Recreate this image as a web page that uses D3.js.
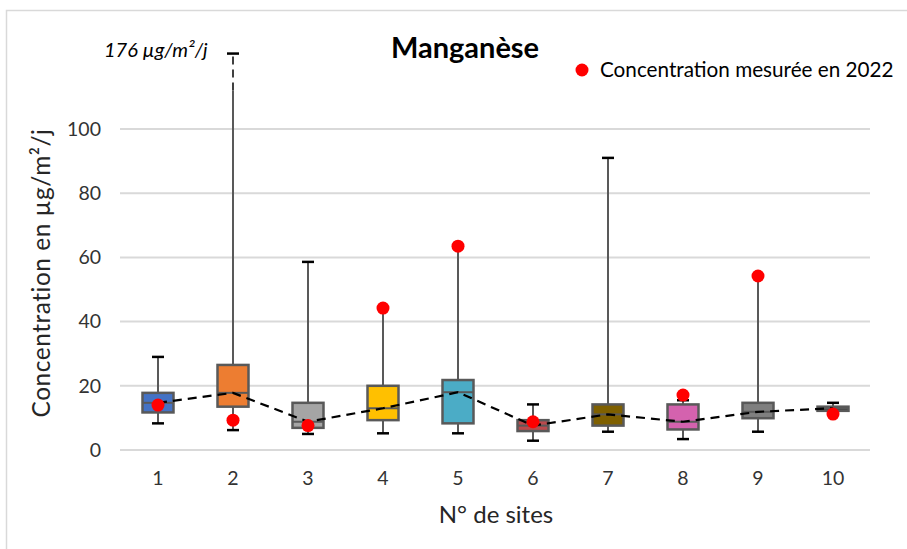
<!DOCTYPE html>
<html>
<head>
<meta charset="utf-8">
<script src="https://cdn.jsdelivr.net/npm/d3@7/dist/d3.min.js"></script>
<style>
  html, body { margin: 0; padding: 0; background: #fff; }
  svg { display: block; font-family: Lato, "Noto Sans", sans-serif; }
</style>
</head>
<body>
<svg id="chart" width="907" height="549"></svg>
<script>
// Manganese deposition per site: box statistics (µg/m²/j)
const sites    = ["1", "2", "3", "4", "5", "6", "7", "8", "9", "10"];
const minVals  = [8.3, 6.2, 5.0, 5.2, 5.2, 2.9, 5.7, 3.4, 5.7, 12.2];
const q1Vals   = [11.7, 13.5, 6.9, 9.3, 8.3, 5.9, 7.6, 6.4, 9.9, 12.2];
const medVals  = [14.7, 17.8, 8.8, 13.0, 18.0, 7.6, 11.1, 8.8, 11.9, 13.0];
const q3Vals   = [17.8, 26.5, 14.7, 20.0, 21.8, 9.3, 14.2, 14.2, 14.7, 13.5];
const maxVals  = [29.0, 176, 58.6, 44.0, 63.5, 14.2, 91.0, 15.5, 54.0, 14.7];
const measured2022 = [14.0, 9.3, 7.6, 44.2, 63.5, 8.8, null, 17.1, 54.2, 11.2];
const boxColors = ["#4472C4", "#ED7D31", "#A5A5A5", "#FFC000", "#4BACC6",
                   "#B94A4D", "#7F6000", "#D462AE", "#7F7F7F", "#404040"];
const yTicks = [0, 20, 40, 60, 80, 100];

// Axis stops short of the largest maximum; values above are shown truncated
const axisMax = 124;
const clipAt = 123.5;
const dashFrom = 112;

const svg = d3.select("#chart");

// chart frame
svg.append("rect")
  .attr("x", 6.5).attr("y", 10.5)
  .attr("width", 910).attr("height", 545)
  .attr("fill", "none").attr("stroke", "#d9d9d9").attr("stroke-width", 1.5);

const x = d3.scaleBand().domain(sites).range([120.5, 870.5]);
const y = d3.scaleLinear().domain([0, axisMax]).range([450, 450 - 3.21 * axisMax]);
const cx = s => x(s) + x.bandwidth() / 2;
const boxW = 31;

// gridlines
svg.append("g").selectAll("line").data(yTicks).join("line")
  .attr("x1", 120).attr("x2", 870)
  .attr("y1", d => y(d)).attr("y2", d => y(d))
  .attr("stroke", "#d9d9d9").attr("stroke-width", 2);

// y axis labels
const yAxis = d3.axisLeft(y).tickValues(yTicks).tickSize(0).tickPadding(0);
const gy = svg.append("g").attr("transform", "translate(101,0)").call(yAxis);
gy.select(".domain").remove();
gy.selectAll("text").attr("font-size", 19.5).attr("fill", "#333")
  .attr("font-family", "Lato, sans-serif");

// x axis labels
const xAxis = d3.axisBottom(x).tickSize(0).tickPadding(0);
const gx = svg.append("g").attr("transform", "translate(0,471)").call(xAxis);
gx.select(".domain").remove();
gx.selectAll("text").attr("font-size", 19.5).attr("fill", "#333")
  .attr("font-family", "Lato, sans-serif");

const data = sites.map((s, i) => ({
  s, min: minVals[i], q1: q1Vals[i], med: medVals[i], q3: q3Vals[i],
  max: maxVals[i], meas: measured2022[i], color: boxColors[i]
}));

const g = svg.append("g");

// whiskers (solid part)
g.selectAll("line.wh").data(data).join("line").attr("class", "wh")
  .attr("x1", d => cx(d.s)).attr("x2", d => cx(d.s))
  .attr("y1", d => y(d.min))
  .attr("y2", d => y(d.max > clipAt ? dashFrom : d.max))
  .attr("stroke", "#595959").attr("stroke-width", 2);

// truncated part of whiskers above the axis range
const truncated = data.filter(d => d.max > clipAt);
g.selectAll("line.whd").data(truncated).join("line").attr("class", "whd")
  .attr("x1", d => cx(d.s)).attr("x2", d => cx(d.s))
  .attr("y1", d => y(dashFrom)).attr("y2", d => y(clipAt))
  .attr("stroke", "#404040").attr("stroke-width", 2)
  .attr("stroke-dasharray", "8,5");

// caps
const caps = [];
data.forEach(d => {
  caps.push({ s: d.s, v: d.min });
  caps.push({ s: d.s, v: Math.min(d.max, clipAt) });
});
g.selectAll("line.cap").data(caps).join("line").attr("class", "cap")
  .attr("x1", d => cx(d.s) - 6).attr("x2", d => cx(d.s) + 6)
  .attr("y1", d => y(d.v)).attr("y2", d => y(d.v))
  .attr("stroke", "#000").attr("stroke-width", 2.5);

// boxes
g.selectAll("rect.box").data(data).join("rect").attr("class", "box")
  .attr("x", d => cx(d.s) - boxW / 2).attr("width", boxW)
  .attr("y", d => y(d.q3))
  .attr("height", d => Math.max(y(d.q1) - y(d.q3), 2))
  .attr("fill", d => d.color)
  .attr("stroke", "#595959").attr("stroke-width", 2.5);

// median bars
g.selectAll("line.med").data(data).join("line").attr("class", "med")
  .attr("x1", d => cx(d.s) - boxW / 2).attr("x2", d => cx(d.s) + boxW / 2)
  .attr("y1", d => y(d.med)).attr("y2", d => y(d.med))
  .attr("stroke", "#595959").attr("stroke-width", 2);

// dashed line joining the medians
g.append("path").datum(data)
  .attr("d", d3.line().x(d => cx(d.s)).y(d => y(d.med)))
  .attr("fill", "none").attr("stroke", "#000").attr("stroke-width", 2.2)
  .attr("stroke-dasharray", "9,6");

// 2022 measurements
g.selectAll("circle.m").data(data.filter(d => d.meas != null)).join("circle")
  .attr("class", "m")
  .attr("cx", d => cx(d.s)).attr("cy", d => y(d.meas)).attr("r", 6.5)
  .attr("fill", "#FF0000");

// title
svg.append("text").attr("x", 465).attr("y", 58).attr("text-anchor", "middle")
  .attr("font-size", 29).attr("font-weight", "bold").attr("fill", "#000")
  .text("Manganèse");

// value of the truncated maximum
svg.append("text").attr("x", 104).attr("y", 57)
  .attr("font-size", 20).attr("font-style", "italic").attr("fill", "#000")
  .text(d3.format("d")(truncated[0].max) + " µg/m²/j");

// legend
svg.append("circle").attr("cx", 582).attr("cy", 70).attr("r", 6.5).attr("fill", "#FF0000");
svg.append("text").attr("x", 600).attr("y", 77)
  .attr("font-size", 20.7).attr("fill", "#000")
  .text("Concentration mesurée en 2022");

// axis titles
svg.append("text").attr("x", 496).attr("y", 523).attr("text-anchor", "middle")
  .attr("font-size", 24).attr("fill", "#262626").text("N° de sites");
svg.append("text")
  .attr("transform", "translate(50,273) rotate(-90)")
  .attr("text-anchor", "middle")
  .attr("font-size", 24.5).attr("letter-spacing", 0.5).attr("fill", "#262626")
  .text("Concentration en µg/m²/j");
</script>
</body>
</html>
